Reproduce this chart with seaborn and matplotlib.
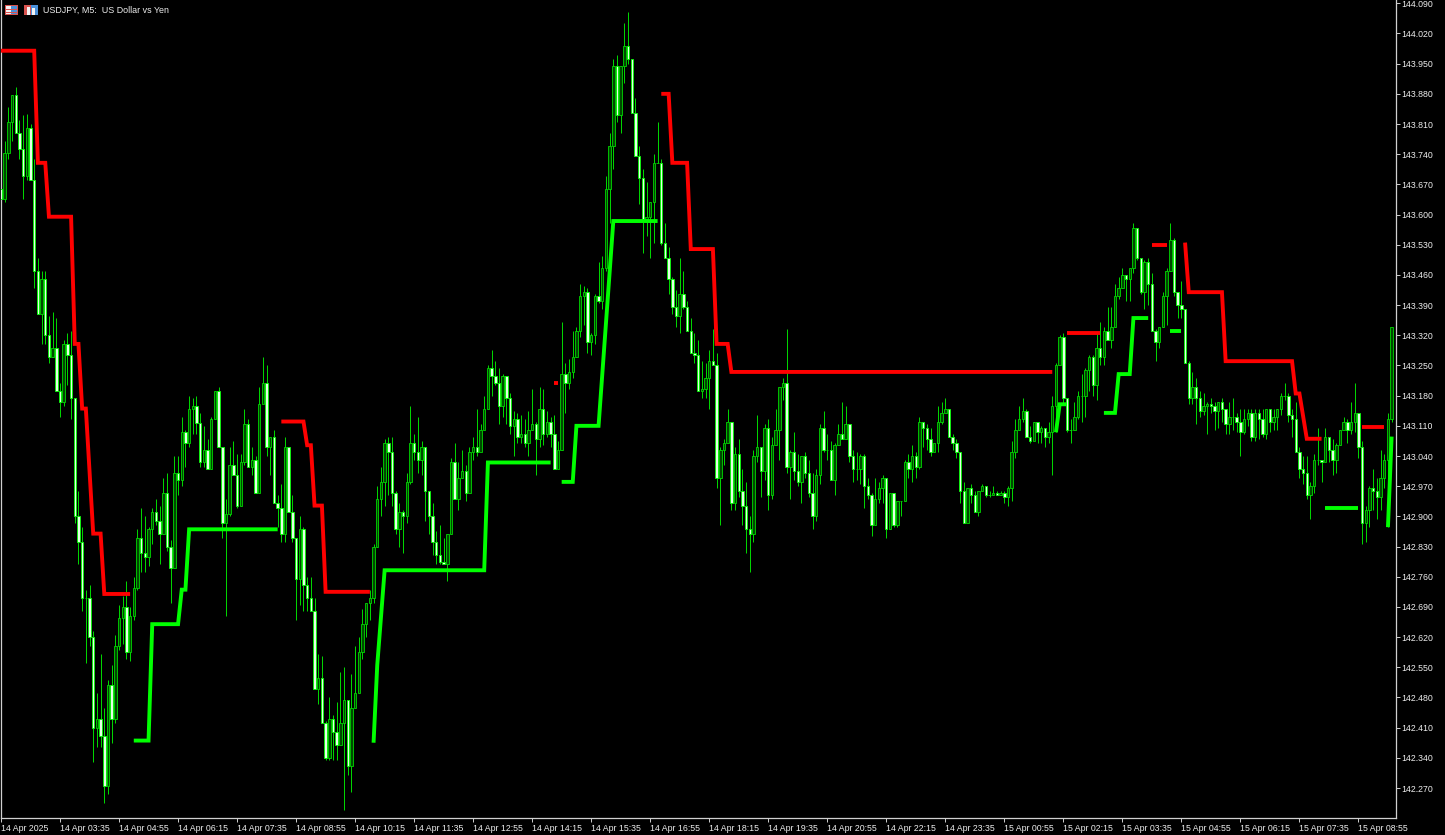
import matplotlib
matplotlib.use("Agg")
import matplotlib.pyplot as plt
from matplotlib.patches import Rectangle
import numpy as np
import pandas as pd
import seaborn as sns

W, H = 1445, 835

# USDJPY M5 bars, 10 per row
closes = [
    143.636,143.743,143.815,143.877,143.79,143.752,143.69,143.80,143.68,143.47,
    143.37,143.45,143.32,143.27,143.29,143.19,143.165,143.30,143.275,143.175,
    142.90,142.84,142.71,142.71,142.62,142.41,142.43,142.39,142.275,142.51,
    142.43,142.60,142.665,142.69,142.585,142.67,142.735,142.85,142.815,142.805,
    142.87,142.91,142.89,142.86,142.955,142.83,142.78,143.0,142.985,143.095,
    143.07,143.15,143.155,143.117,143.025,143.055,143.01,143.125,143.19,143.06,
    142.885,142.905,143.02,142.995,142.925,143.025,143.115,143.015,143.03,142.955,
    143.16,143.21,143.06,143.085,142.93,142.92,142.86,143.06,142.91,142.85,
    142.755,142.87,142.74,142.71,142.68,142.50,142.525,142.42,142.34,142.43,
    142.40,142.37,142.42,142.475,142.32,142.455,142.49,142.585,142.65,142.70,
    142.71,142.83,142.94,142.98,143.07,143.05,142.955,142.87,142.91,142.90,
    142.98,143.07,143.05,143.03,143.06,142.96,142.90,142.84,142.81,142.795,
    142.79,142.86,143.025,142.94,142.99,143.005,142.955,143.05,143.06,143.05,
    143.10,143.15,143.245,143.225,143.21,143.155,143.225,143.175,143.11,143.125,
    143.085,143.09,143.07,143.10,143.115,143.08,143.15,143.09,143.12,143.09,
    143.01,143.055,143.23,143.21,143.235,143.27,143.33,143.41,143.42,143.305,
    143.32,143.41,143.40,143.475,143.66,143.76,143.945,143.83,143.945,143.99,
    143.96,143.835,143.735,143.685,143.59,143.595,143.63,143.72,143.72,143.535,
    143.50,143.45,143.385,143.365,143.415,143.385,143.33,143.28,143.275,143.19,
    143.195,143.22,143.26,143.25,142.99,143.055,143.07,143.12,142.93,143.045,
    142.96,142.925,142.87,142.86,143.04,143.06,143.005,143.105,142.95,143.065,
    143.10,143.20,143.21,143.015,143.05,143.005,142.98,143.04,143.0,142.955,
    142.90,142.995,143.105,143.055,143.055,142.985,143.065,143.09,143.08,143.115,
    143.04,143.01,143.01,143.04,142.97,142.95,142.88,142.94,142.965,142.99,
    142.87,142.955,142.88,142.935,142.935,143.025,143.01,143.04,143.015,143.12,
    143.105,143.08,143.05,143.07,143.12,143.14,143.15,143.085,143.07,143.05,
    142.96,142.885,142.965,142.95,142.91,142.96,142.97,142.95,142.95,142.955,
    142.95,142.955,142.945,142.965,143.05,143.10,143.125,143.145,143.085,143.075,
    143.12,143.095,143.105,143.085,143.095,143.155,143.25,143.315,143.175,143.10,
    143.10,143.13,143.18,143.18,143.24,143.27,143.205,143.29,143.27,143.33,
    143.31,143.34,143.41,143.43,143.46,143.45,143.475,143.57,143.50,143.42,
    143.49,143.44,143.33,143.305,143.34,143.41,143.47,143.54,143.42,143.39,
    143.38,143.255,143.175,143.20,143.175,143.145,143.155,143.16,143.155,143.145,
    143.165,143.15,143.115,143.13,143.13,143.12,143.095,143.125,143.14,143.085,
    143.14,143.125,143.09,143.15,143.12,143.13,143.15,143.18,143.18,143.135,
    143.125,143.05,143.01,143.0,142.95,142.97,143.03,143.03,143.025,143.085,
    143.055,143.03,143.065,143.10,143.12,143.10,143.12,143.14,143.06,142.885,
    142.915,142.965,142.96,142.945,142.99,143.03,143.125,143.34,
]
highs = [
    143.66,143.771,143.85,143.877,143.896,143.82,143.83,143.833,143.81,143.73,
    143.50,143.47,143.47,143.365,143.375,143.36,143.21,143.31,143.325,143.33,
    143.17,142.96,142.875,142.73,142.74,142.635,142.49,142.58,142.455,142.52,
    142.555,142.625,142.695,142.715,142.75,142.69,142.76,142.87,142.92,142.90,
    142.875,142.92,142.94,142.925,142.99,143.0,142.845,143.04,143.04,143.13,
    143.10,143.18,143.175,143.18,143.14,143.11,143.08,143.13,143.19,143.2,
    143.06,142.94,143.06,143.075,143.045,143.045,143.15,143.125,143.06,143.04,
    143.2,143.27,143.25,143.085,143.10,142.95,142.975,143.085,143.06,142.95,
    142.85,142.90,142.875,142.76,142.76,142.71,142.58,142.575,142.425,142.48,
    142.44,142.47,142.54,142.55,142.475,142.535,142.60,142.62,142.685,142.70,
    142.73,142.835,142.97,143.015,143.08,143.085,143.085,142.96,142.93,142.915,
    143.0,143.155,143.09,143.13,143.075,143.06,142.96,142.93,142.865,142.88,
    142.85,142.86,143.035,143.07,143.025,143.055,143.02,143.06,143.085,143.15,
    143.115,143.18,143.25,143.285,143.26,143.245,143.23,143.225,143.185,143.145,
    143.14,143.135,143.125,143.145,143.195,143.12,143.20,143.195,143.145,143.13,
    143.135,143.075,143.35,143.255,143.265,143.33,143.34,143.44,143.435,143.43,
    143.325,143.415,143.49,143.505,143.69,143.79,143.96,143.97,143.945,144.045,
    144.07,143.835,143.87,143.76,143.705,143.675,143.63,143.74,143.815,143.73,
    143.58,143.525,143.455,143.425,143.50,143.47,143.40,143.36,143.325,143.31,
    143.26,143.255,143.285,143.335,143.28,143.06,143.08,143.15,143.12,143.06,
    143.08,143.01,142.98,142.90,143.055,143.135,143.06,143.115,143.125,143.085,
    143.15,143.20,143.22,143.335,143.055,143.095,143.045,143.04,143.05,143.03,
    143.0,143.01,143.115,143.145,143.09,143.075,143.07,143.115,143.165,143.155,
    143.105,143.055,143.05,143.045,143.045,142.99,142.955,142.99,142.98,142.995,
    142.99,142.955,142.955,142.935,142.935,143.03,143.045,143.065,143.05,143.13,
    143.12,143.115,143.105,143.07,143.155,143.165,143.175,143.15,143.09,143.08,
    143.05,142.98,142.965,142.975,142.96,142.96,142.975,142.965,142.96,142.97,
    142.96,142.96,142.96,142.97,143.075,143.125,143.155,143.175,143.15,143.11,
    143.12,143.12,143.11,143.105,143.12,143.18,143.255,143.32,143.325,143.175,
    143.125,143.165,143.19,143.23,143.245,143.275,143.275,143.325,143.35,143.34,
    143.385,143.385,143.44,143.455,143.475,143.46,143.475,143.58,143.57,143.50,
    143.495,143.50,143.465,143.335,143.34,143.42,143.475,143.58,143.545,143.42,
    143.445,143.375,143.26,143.235,143.22,143.19,143.185,143.165,143.175,143.165,
    143.165,143.175,143.15,143.165,143.175,143.14,143.15,143.15,143.15,143.15,
    143.15,143.15,143.15,143.15,143.15,143.15,143.15,143.185,143.21,143.185,
    143.15,143.165,143.06,143.04,143.04,142.98,143.045,143.105,143.025,143.105,
    143.085,143.08,143.07,143.10,143.13,143.125,143.165,143.21,143.14,143.075,
    142.925,142.97,143.01,142.99,143.055,143.045,143.14,143.34,
]
lows = [
    143.63,143.63,143.73,143.77,143.79,143.73,143.636,143.68,143.68,143.43,
    143.37,143.30,143.30,143.255,143.27,143.19,143.13,143.155,143.205,143.125,
    142.885,142.79,142.68,142.56,142.60,142.33,142.365,142.365,142.235,142.255,
    142.375,142.42,142.59,142.605,142.57,142.565,142.66,142.73,142.77,142.77,
    142.785,142.835,142.88,142.79,142.86,142.82,142.70,142.78,142.95,142.97,
    143.015,143.06,143.09,143.09,143.015,143.015,143.01,143.01,143.125,143.06,
    142.85,142.67,142.90,142.995,142.92,142.93,143.02,143.015,142.995,142.955,
    142.955,143.205,143.04,142.995,142.93,142.875,142.84,142.84,142.91,142.84,
    142.66,142.695,142.68,142.68,142.68,142.50,142.465,142.42,142.335,142.335,
    142.335,142.335,142.42,142.22,142.30,142.26,142.49,142.585,142.57,142.62,
    142.66,142.70,142.83,142.90,142.925,142.95,142.925,142.86,142.83,142.815,
    142.885,142.975,143.03,143.0,142.995,142.89,142.86,142.81,142.79,142.79,
    142.79,142.75,142.86,142.94,142.915,142.99,142.935,143.05,143.03,143.04,
    143.10,143.15,143.15,143.18,143.205,143.115,143.13,143.115,143.09,143.04,
    143.07,143.07,143.06,143.04,143.10,142.995,143.06,143.065,143.085,143.06,
    143.01,143.015,143.055,143.14,143.195,143.22,143.27,143.315,143.345,143.28,
    143.275,143.30,143.395,143.38,143.47,143.58,143.705,143.815,143.79,143.905,
    143.95,143.835,143.735,143.625,143.51,143.55,143.50,143.535,143.72,143.53,
    143.50,143.415,143.37,143.34,143.325,143.38,143.33,143.28,143.255,143.19,
    143.175,143.175,143.15,143.25,142.965,142.88,143.02,143.12,142.915,142.915,
    142.945,142.88,142.815,142.77,142.84,143.025,142.945,142.985,142.915,142.94,
    143.065,143.03,143.17,143.0,142.94,142.985,142.97,142.93,142.99,142.945,
    142.87,142.89,142.975,143.05,143.03,142.985,142.95,143.065,143.08,143.08,
    143.025,142.98,142.985,142.975,142.92,142.94,142.855,142.88,142.93,142.93,
    142.85,142.87,142.875,142.875,142.90,142.935,142.99,142.98,142.99,143.01,
    143.06,143.055,143.04,143.07,143.05,143.115,143.15,143.085,143.055,143.035,
    142.93,142.885,142.94,142.93,142.91,142.90,142.965,142.945,142.945,142.95,
    142.95,142.95,142.93,142.925,142.935,143.035,143.10,143.12,143.085,143.07,
    143.115,143.07,143.07,143.06,143.07,142.995,143.095,143.25,143.16,143.095,
    143.07,143.10,143.125,143.12,143.13,143.19,143.18,143.17,143.25,143.25,
    143.31,143.29,143.34,143.405,143.43,143.40,143.40,143.465,143.495,143.415,
    143.38,143.39,143.33,143.26,143.29,143.34,143.345,143.47,143.41,143.36,
    143.36,143.255,143.16,143.16,143.115,143.13,143.135,143.09,143.14,143.10,
    143.105,143.12,143.09,143.09,143.10,143.095,143.04,143.09,143.11,143.075,
    143.075,143.08,143.085,143.08,143.095,143.10,143.10,143.135,143.17,143.12,
    143.085,143.05,142.99,142.975,142.94,142.895,142.955,143.02,142.98,143.075,
    143.025,142.995,143.0,143.065,143.115,143.07,143.09,143.095,143.035,142.835,
    142.84,142.875,142.915,142.895,142.915,142.965,142.875,143.12,
]
first_open = 143.66

# trailing stop segments: segment id, bar index, price
red_seg = [0]*14 + [1]*8 + [2]*2 + [3]*10 + [4]*2 + [5]*2 + [6]*9 + [7]*2
red_bar = [0,9,10,12,13,19,20,21,22,23,25,27,28,35,
           76,82,83,84,85,87,88,100,
           150,151,
           179,181,182,186,187,193,194,197,198,285,
           289,298,
           312,316,
           321,322,331,332,350,351,352,354,358,
           369,375]
red_price = [143.98,143.98,143.72,143.72,143.595,143.595,143.30,143.30,143.15,143.15,142.86,142.86,142.72,142.72,
             143.12,143.12,143.065,143.065,142.925,142.925,142.725,142.725,
             143.21,143.21,
             143.88,143.88,143.72,143.72,143.52,143.52,143.30,143.30,143.235,143.235,
             143.325,143.325,
             143.53,143.53,
             143.535,143.42,143.42,143.26,143.26,143.185,143.185,143.08,143.08,
             143.107,143.107]

green_seg = [0]*8 + [1]*6 + [2]*6 + [3]*3 + [4]*6 + [5]*2 + [6]*2 + [7]*2
green_bar = [36,40,41,48,49,50,51,75,
             101,102,104,131,132,149,
             152,155,156,162,166,178,
             286,287,289,
             299,302,303,306,307,311,
             317,320,
             359,368,
             376,377]
green_price = [142.38,142.38,142.65,142.65,142.73,142.73,142.87,142.87,
               142.375,142.555,142.775,142.775,143.025,143.025,
               142.98,142.98,143.11,143.11,143.585,143.585,
               143.095,143.16,143.16,
               143.14,143.14,143.23,143.23,143.36,143.36,
               143.33,143.33,
               142.92,142.92,
               142.875,143.085]

x_labels = ["14 Apr 2025", "14 Apr 03:35", "14 Apr 04:55", "14 Apr 06:15", "14 Apr 07:35",
            "14 Apr 08:55", "14 Apr 10:15", "14 Apr 11:35", "14 Apr 12:55", "14 Apr 14:15",
            "14 Apr 15:35", "14 Apr 16:55", "14 Apr 18:15", "14 Apr 19:35", "14 Apr 20:55",
            "14 Apr 22:15", "14 Apr 23:35", "15 Apr 00:55", "15 Apr 02:15", "15 Apr 03:35",
            "15 Apr 04:55", "15 Apr 06:15", "15 Apr 07:35", "15 Apr 08:55"]
y_ticks = [144.09, 144.02, 143.95, 143.88, 143.81, 143.74, 143.67, 143.60, 143.53,
           143.46, 143.39, 143.32, 143.25, 143.18, 143.11, 143.04, 142.97, 142.90,
           142.83, 142.76, 142.69, 142.62, 142.55, 142.48, 142.41, 142.34, 142.27]

sns.set_theme(style="dark", rc={"axes.facecolor": "black", "figure.facecolor": "black"})
plt.rcParams["font.family"] = ["Liberation Sans", "DejaVu Sans"]

fig = plt.figure(figsize=(W / 100, H / 100), dpi=100)
ax = fig.add_axes([1 / W, 1 - 818 / H, 1394.5 / W, 818 / H])

opens = np.r_[first_open, closes[:-1]]
closes_arr = np.array(closes)
bars = np.arange(len(closes))
up = closes_arr >= opens

LIME = "#00ff00"
ax.vlines(bars, lows, highs, color="#00d400", lw=0.72, zorder=2)
bottoms = np.minimum(opens, closes_arr)
heights = np.abs(closes_arr - opens)
ax.bar(bars[up], heights[up], bottom=bottoms[up], width=0.66, color="#004800",
       edgecolor="#00d800", linewidth=0.6, zorder=3)
ax.bar(bars[~up], heights[~up], bottom=bottoms[~up], width=0.66, color="#e4ffe4",
       edgecolor=LIME, linewidth=0.6, zorder=3)

red_df = pd.DataFrame({"bar": red_bar, "price": red_price, "seg": red_seg})
green_df = pd.DataFrame({"bar": green_bar, "price": green_price, "seg": green_seg})
sns.lineplot(data=red_df, x="bar", y="price", units="seg", estimator=None, sort=False,
             color="#ff0000", lw=2.8, ax=ax, zorder=5, solid_capstyle="butt", solid_joinstyle="miter")
sns.lineplot(data=green_df, x="bar", y="price", units="seg", estimator=None, sort=False,
             color=LIME, lw=2.8, ax=ax, zorder=5, solid_capstyle="butt", solid_joinstyle="miter")

# 3.69 px per bar, first bar at 0.5 px
ax.set_xlim((1 - 0.5) / 3.69, (1395.5 - 0.5) / 3.69)
ax.set_ylim(142.27 - 30 / 431.16, 144.09 + 3.3 / 431.16)

ax.set_xticks(np.arange(len(x_labels)) * 16)
ax.set_xticklabels(x_labels, ha="left", fontsize=6.3, color="#eeeeee")
ax.yaxis.tick_right()
ax.set_yticks(y_ticks)
ax.set_yticklabels([f"{v:.3f}" for v in y_ticks], fontsize=6.3, color="#eeeeee")
ax.tick_params(axis="x", length=3, width=0.7, color="#d0d0d0", pad=1.5, bottom=True)
ax.tick_params(axis="y", length=3, width=0.7, color="#d0d0d0", pad=1.5, right=True, left=False)
ax.set_xlabel("")
ax.set_ylabel("")
ax.grid(False)
for name, spine in ax.spines.items():
    spine.set_visible(name != "top")
    spine.set_color("#d0d0d0")
    spine.set_linewidth(0.9)

# toolbar style icons before the symbol caption
def px_rect(x, y, w, h, color):
    fig.add_artist(Rectangle((x / W, 1 - (y + h) / H), w / W, h / H, color=color,
                             transform=fig.transFigure, lw=0, zorder=10))

px_rect(5, 5, 13, 10, "#d9534f")
px_rect(6, 6, 5, 8, "#f4f4f4")
px_rect(11, 6, 6, 8, "#4a90d9")
px_rect(6, 9, 11, 1, "#d9534f")
px_rect(6, 12, 11, 1, "#d9534f")
px_rect(24, 5, 7, 10, "#d9534f")
px_rect(31, 5, 7, 10, "#4a90d9")
px_rect(27, 7, 3, 8, "#f4f4f4")
px_rect(32, 8, 3, 7, "#f4f4f4")

fig.text(43 / W, 1 - 10 / H, "USDJPY, M5:  US Dollar vs Yen", fontsize=6.4,
         color="#eeeeee", va="center", ha="left")

fig.savefig("out.png", dpi=100, facecolor="black")
plt.close(fig)
